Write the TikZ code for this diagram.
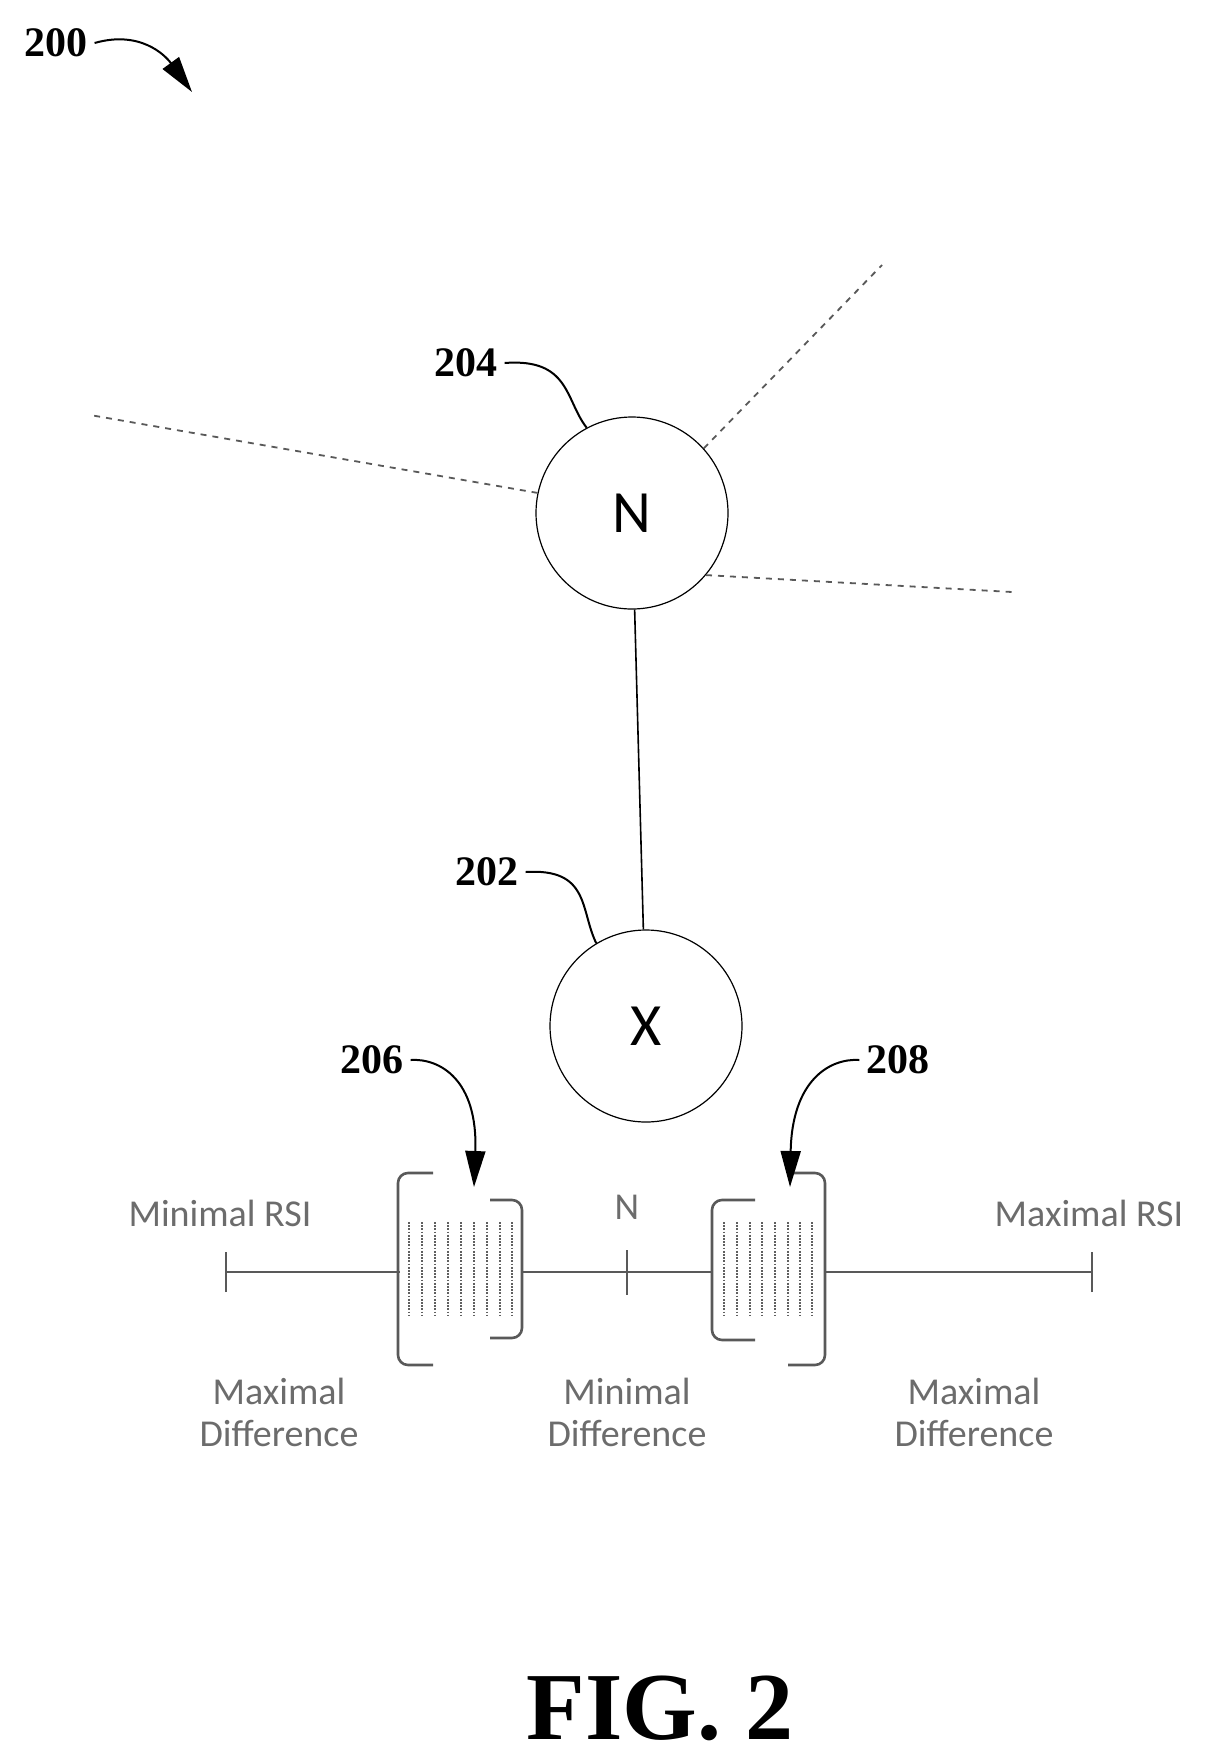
\documentclass[tikz,border=0pt]{standalone}
\usepackage{fontspec}
\setmainfont{Liberation Serif}
\newfontfamily\lblfont{Carlito}
\usetikzlibrary{arrows.meta}
\tikzset{
  ref/.style={font=\fontsize{21}{21}\selectfont\bfseries},
  lead/.style={line width=1pt},
  tipd/.style={-{Triangle[length=18pt,width=10pt]}},
  site/.style={circle,draw,line width=0.6pt,minimum size=96pt,font=\lblfont\fontsize{30}{30}\selectfont},
  linkdash/.style={gray!70!black,dash pattern=on 3pt off 3pt,line width=0.9pt},
  grey/.style={font=\lblfont\fontsize{19}{21}\selectfont,text=gray!85!black,align=center},
  brk/.style={gray!70!black,line width=1.3pt,rounded corners=5pt},
  hatch/.style={gray!75!black,line width=1.3pt,dash pattern=on 0.9pt off 0.7pt},
}
\begin{document}
\begin{tikzpicture}[x=0.5pt,y=-0.5pt]
\useasboundingbox (0,0) rectangle (1218,1762);

% reference numerals
\node[ref] (n200) at (56,43) {200};
\draw[lead,tipd] (n200.east) .. controls (140,30) and (165,55) .. (192,92);
\node[ref] (n204) at (466,363) {204};
\node[ref] (n202) at (487,872) {202};
\node[ref] (n206) at (372,1060) {206};
\node[ref] (n208) at (898,1060) {208};

% nodes
\node[site] (N) at (632,513) {N};
\node[site] (X) at (646,1026) {X};
\draw[line width=0.8pt] (N) -- (X);
\draw[lead] (n204.east) .. controls (570,358) and (565,400) .. (N.118);
\draw[lead] (n202.east) .. controls (590,868) and (580,910) .. (X.121);

% links to other sites
\coordinate (e1) at (882,265);
\coordinate (e2) at (90,415);
\coordinate (e3) at (1012,592);
\draw[linkdash] (N.42) -- (e1);
\draw[linkdash] (N.168) -- (e2);
\draw[linkdash] (N.-40) -- (e3);

% RSI scale
\coordinate (lo) at (226,1272);
\coordinate (hi) at (1092,1272);
\draw[gray!70!black,line width=1.3pt] (lo) -- (hi);
\draw[gray!70!black,line width=1.3pt] ([yshift=-10pt]lo) -- ([yshift=10pt]lo);
\draw[gray!70!black,line width=1.3pt] ([yshift=-10pt]hi) -- ([yshift=10pt]hi);
\draw[gray!70!black,line width=1.3pt] (627,1250) -- (627,1295);

% ranges 206 and 208
\fill[white] (400,1175) rectangle (521,1360);
\fill[white] (713,1175) rectangle (824,1360);
\draw[brk] (433,1173) -- (398,1173) -- (398,1365) -- (433,1365);
\draw[brk] (490,1200) -- (522,1200) -- (522,1338) -- (490,1338);
\foreach \x in {409,422,435,448,461,474,487,500,512}
  \draw[hatch] (\x,1222) -- (\x,1315);
\draw[brk] (755,1200) -- (712,1200) -- (712,1340) -- (755,1340);
\draw[brk] (788,1173) -- (825,1173) -- (825,1365) -- (788,1365);
\foreach \x in {724,737,750,762,775,788,800,812}
  \draw[hatch] (\x,1222) -- (\x,1315);
\draw[lead,tipd] (n206.east) .. controls (440,1058) and (478,1080) .. (474,1187);
\draw[lead,tipd] (n208.west) .. controls (830,1058) and (792,1080) .. (790,1187);

% scale labels
\node[grey] (minrsi) at (220,1213) {Minimal RSI};
\node[grey] (mid) at (627,1207) {N};
\node[grey] (maxrsi) at (1089,1213) {Maximal RSI};
\node[grey] (dl) at (279,1412) {Maximal\\Difference};
\node[grey] (dm) at (627,1412) {Minimal\\Difference};
\node[grey] (dr) at (974,1412) {Maximal\\Difference};

\node[font=\fontsize{48}{48}\selectfont\bfseries] (fig) at (660,1708) {FIG. 2};
\end{tikzpicture}
\end{document}
